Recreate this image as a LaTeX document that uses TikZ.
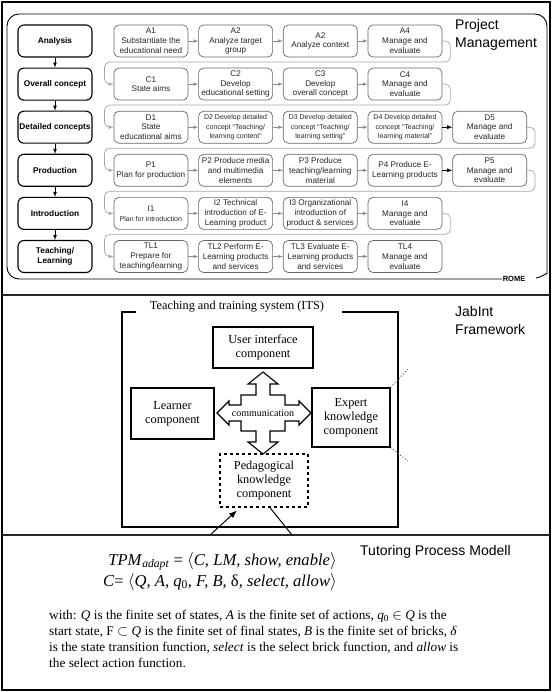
\documentclass[tikz,border=0pt]{standalone}
\usepackage{fontspec}
\setmainfont{Liberation Serif}
\newfontfamily\arial{Liberation Sans}
\usetikzlibrary{arrows, arrows.meta}
\usetikzlibrary{positioning}

\begin{document}
\begin{tikzpicture}[x=1pt, y=-1pt, inner sep=0.5pt,
 phase/.style={draw, line width=1.1pt, rounded corners=6pt, minimum width=74pt, minimum height=32pt, align=center, font=\arial\bfseries\fontsize{8.3}{9.8}\selectfont},
 stepbox/.style={draw=black!60, line width=0.7pt, rounded corners=5pt, minimum width=74pt, minimum height=32pt, align=center, text=black!85, font=\arial\fontsize{8.2}{9.8}\selectfont},
 tiny/.style={font=\arial\fontsize{7}{9.2}\selectfont},
 its/.style={draw, line width=1.3pt, align=center, inner sep=0pt, font=\fontsize{12.3}{14}\selectfont}
]
 \tikzstyle{ga}=[draw=black!45, line width=0.6pt, -latex];
 \tikzstyle{conn}=[draw=black!35, line width=0.7pt, rounded corners=5pt, -latex];
 \tikzstyle{lbl}=[anchor=north west, align=left, inner sep=0pt, font=\arial\fontsize{14}{18}\selectfont];
\useasboundingbox (0,0) rectangle (553,692);
\draw[line width=1.1pt] (2,2) rectangle (550,690);
\draw[line width=1.4pt, black!85] (2,295) -- (550,295);
\draw[line width=1.4pt, black!85] (2,535) -- (550,535);

% ROME
\node[font=\arial\bfseries\fontsize{7.5}{9}\selectfont] (rome) at (514,279) {ROME};
\draw[line width=0.9pt, rounded corners=12pt] (rome.west) -- (7,279) -- (7,14) -- (547,14) -- (547,262) .. controls (547,272) and (543,277) .. (536,278);
\node[lbl] (pm) at (455,19) {Project\\Management};

\node[phase] (ph1) at (55,41) {Analysis};
\node[phase, below=10pt of ph1] (ph2) {Overall concept};
\node[phase, below=10pt of ph2] (ph3) {Detailed concepts};
\node[phase, below=10pt of ph3] (ph4) {Production};
\node[phase, below=10pt of ph4] (ph5) {Introduction};
\node[phase, below=10pt of ph5] (ph6) {Teaching/\\Learning};
\foreach \a/\b in {ph1/ph2, ph2/ph3, ph3/ph4, ph4/ph5, ph5/ph6}
 \draw[-latex, line width=0.7pt] (\a) -- (\b);

\node[stepbox, right=21pt of ph1] (A1) {A1\\Substantiate the\\educational need};
\node[stepbox, right=10pt of A1] (A2) {A2\\Analyze target\\group};
\node[stepbox, right=10pt of A2] (A3) {A2\\Analyze context};
\node[stepbox, right=10pt of A3] (A4) {A4\\Manage and\\evaluate};

\node[stepbox, right=21pt of ph2] (C1) {C1\\State aims};
\node[stepbox, right=10pt of C1] (C2) {C2\\Develop\\educational setting};
\node[stepbox, right=10pt of C2] (C3) {C3\\Develop\\overall concept};
\node[stepbox, right=10pt of C3] (C4) {C4\\Manage and\\evaluate};

\node[stepbox, right=21pt of ph3] (D1) {D1\\State\\educational aims};
\node[stepbox, tiny, right=10pt of D1] (D2) {D2 Develop detailed\\concept “Teaching/\\learning content”};
\node[stepbox, tiny, right=10pt of D2] (D3) {D3 Develop detailed\\concept “Teaching/\\learning setting”};
\node[stepbox, tiny, right=10pt of D3] (D4) {D4 Develop detailed\\concept “Teaching/\\learning material”};
\node[stepbox, right=10pt of D4] (D5) {D5\\Manage and\\evaluate};

\node[stepbox, right=21pt of ph4] (P1) {P1\\Plan for production};
\node[stepbox, right=10pt of P1] (P2) {P2 Produce media\\and multimedia\\elements};
\node[stepbox, right=10pt of P2] (P3) {P3 Produce\\teaching/learning\\material};
\node[stepbox, right=10pt of P3] (P4) {P4 Produce E-\\Learning products};
\node[stepbox, right=10pt of P4] (P5) {P5\\Manage and\\evaluate};

\node[stepbox, right=21pt of ph5] (I1) {I1\\{\fontsize{7}{9.2}\selectfont Plan for introduction}};
\node[stepbox, right=10pt of I1] (I2) {I2 Technical\\introduction of E-\\Learning product};
\node[stepbox, right=10pt of I2] (I3) {I3 Organizational\\introduction of\\product \& services};
\node[stepbox, right=10pt of I3] (I4) {I4\\Manage and\\evaluate};

\node[stepbox, right=21pt of ph6] (T1) {TL1\\Prepare for\\teaching/learning};
\node[stepbox, right=10pt of T1] (T2) {TL2 Perform E-\\Learning products\\and services};
\node[stepbox, right=10pt of T2] (T3) {TL3 Evaluate E-\\Learning products\\and services};
\node[stepbox, right=10pt of T3] (T4) {TL4\\Manage and\\evaluate};

\foreach \a/\b in {A1/A2, A2/A3, A3/A4, C1/C2, C2/C3, C3/C4, D1/D2, D2/D3, D3/D4, P1/P2, P2/P3, P3/P4, I1/I2, I2/I3, I3/I4, T1/T2, T2/T3, T3/T4}
 \draw[ga] (\a) -- (\b);
\draw[-latex, line width=0.8pt] (D4) -- (D5);
\draw[-latex, line width=0.8pt] (P4) -- (P5);
\foreach \a/\b in {A4/C1, C4/D1, D5/P1, P5/I1, I4/T1}
 \draw[conn] (\a.east) -- ++(8,0) -- ++(0,21) -| ([xshift=-9pt]\b.west) -- (\b.west);

% ITS
\node[font=\fontsize{12.3}{14}\selectfont] (itstitle) at (237,307) {Teaching and training system (ITS)};
\draw[line width=1.3pt] (136,312) -- (122,312) -- (122,527) -- (398,527) -- (398,312) -- (342,312);
\node[lbl] (jab) at (455,306) {JabInt\\Framework};
\node[its, minimum width=100pt, minimum height=41pt] (ui) at (263,347.5) {User interface\\component};
\node[its, minimum width=83pt, minimum height=51pt] (learner) at (172.5,413.5) {Learner\\component};
\node[its, minimum width=78pt, minimum height=59pt] (expert) at (351,417.5) {Expert\\knowledge\\component};
\node[its, dashed, minimum width=88pt, minimum height=53pt] (peda) at (264,480.5) {Pedagogical\\knowledge\\component};
\draw[dotted, black!65, line width=1pt] (expert.north east) -- ++(17,-18);
\draw[dotted, black!65, line width=1pt] (expert.south east) -- ++(17,13);
\begin{scope}[shift={(263,413)}]
 \draw[line width=1.1pt, fill=white] (0,-41) -- (15,-29) -- (7,-29) -- (7,-18) -- (22,-18) -- (22,-8) -- (36,-8) -- (36,-12) -- (48,0) -- (36,12) -- (36,8) -- (22,8) -- (22,18) -- (7,18) -- (7,29) -- (15,29) -- (0,41) -- (-15,29) -- (-7,29) -- (-7,18) -- (-22,18) -- (-22,8) -- (-34,8) -- (-34,12) -- (-46,0) -- (-34,-12) -- (-34,-8) -- (-22,-8) -- (-22,-18) -- (-7,-18) -- (-7,-29) -- (-15,-29) -- cycle;
\end{scope}
\node[font=\fontsize{10}{12}\selectfont] (comm) at (263,413) {communication};
\coordinate (pin) at (210,535);
\coordinate (pout) at (292,535);
\draw[-{Latex[length=8pt,width=6pt]}, line width=1pt, shorten >=4pt] (pin) -- ([xshift=-24pt]peda.south);
\draw[line width=1pt] ([xshift=6pt]peda.south) -- (pout);

% TPM
\node[anchor=west, inner sep=0pt, font=\arial\fontsize{14}{18}\selectfont] (tut) at (360,552) {Tutoring Process Modell};
\node[anchor=north east, align=right, inner sep=0pt, font=\fontsize{16.6}{21}\selectfont] (tpm) at (337,552) {\textit{TPM}\textsubscript{\textit{adapt}} = $\langle$\textit{C, LM, show, enable}$\rangle$\\
\textit{C}= $\langle$\textit{Q, A, q}\textsubscript{0}\textit{, F, B, }δ\textit{, select, allow}$\rangle$};
\node[anchor=north west, align=left, inner sep=0pt, font=\fontsize{13.3}{16}\selectfont] (with) at (49,610) {with: \textit{Q} is the finite set of states, \textit{A} is the finite set of actions, \textit{q}\textsubscript{0} $\in$ \textit{Q} is the\\
start state, F $\subset$ \textit{Q} is the finite set of final states, \textit{B} is the finite set of bricks, \textit{δ}\\
is the state transition function, \textit{select} is the select brick function, and \textit{allow} is\\
the select action function.};
\end{tikzpicture}
\end{document}
